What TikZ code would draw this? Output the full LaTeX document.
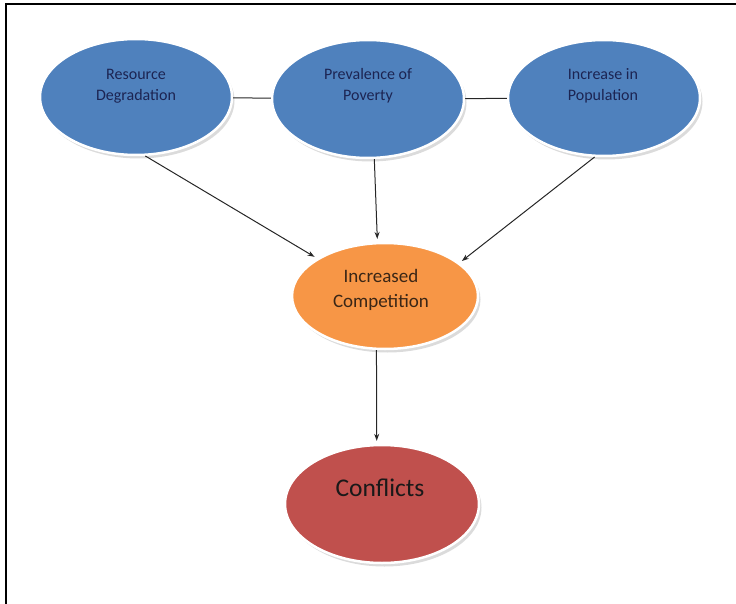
\documentclass[tikz,border=0pt]{standalone}
\usepackage{fontspec}
\setmainfont{Carlito}
\usetikzlibrary{arrows.meta,shadows,shapes.geometric}
\definecolor{bubbleblue}{HTML}{4F81BD}
\definecolor{bubbleorange}{HTML}{F79646}
\definecolor{bubblered}{HTML}{C0504D}
\definecolor{inkblue}{HTML}{1C2452}
\definecolor{inkbrown}{HTML}{3A2616}
\tikzset{
  bubble/.style={
    ellipse, draw=white, line width=2.5pt,
    drop shadow={shadow xshift=2.5pt,shadow yshift=-3.5pt,fill=black!28},
    inner sep=0pt
  },
  bubble text/.style={align=center, inner sep=0pt},
  link/.style={draw=black!85, line width=1pt},
  push/.style={link, -{Stealth[length=7pt,width=5pt]}, shorten >=3pt}
}

\begin{document}
\begin{tikzpicture}[x=1pt,y=-1pt]
\useasboundingbox (0,0) rectangle (736,604);
% frame
\draw[line width=2pt] (6,604) -- (6,4) -- (736,4);

% causes
\node[bubble, fill=bubbleblue, minimum width=192pt, minimum height=116pt] (deg) at (136,97) {};
\node[bubble, fill=bubbleblue, minimum width=192pt, minimum height=118pt] (pov) at (368,99) {};
\node[bubble, fill=bubbleblue, minimum width=192pt, minimum height=116pt] (pop) at (604,98) {};

\node[bubble text, text=inkblue, font=\fontsize{16}{21}\selectfont] (degtxt) at (136,86) {Resource\\Degradation};
\node[bubble text, text=inkblue, font=\fontsize{16}{21}\selectfont] (povtxt) at (368,86) {Prevalence of\\Poverty};
\node[bubble text, text=inkblue, font=\fontsize{16}{21}\selectfont] (poptxt) at (603,86) {Increase in\\Population};

% competition and conflicts
\node[bubble, fill=bubbleorange, minimum width=186pt, minimum height=106pt] (comp) at (385,296) {};
\node[bubble text, text=inkbrown, font=\fontsize{19}{25}\selectfont] (comptxt) at (381,290) {Increased\\Competition};

\node[bubble, fill=bubblered, minimum width=194pt, minimum height=118pt] (conf) at (382,504) {};
\node[bubble text, text=black!90, font=\fontsize{25.5}{30}\selectfont] (conftxt) at (380,488) {Conflicts};

% links
\draw[link] (deg) -- (pov);
\draw[link] (pov) -- (pop);

\draw[push] (deg.-81) -- (comp.151);
\draw[push] (pov.-84) -- (comp.98);
\draw[push] (pop.-99) -- (comp.24);
\draw[push] (comp.-99) -- (conf.95);
\end{tikzpicture}
\end{document}
